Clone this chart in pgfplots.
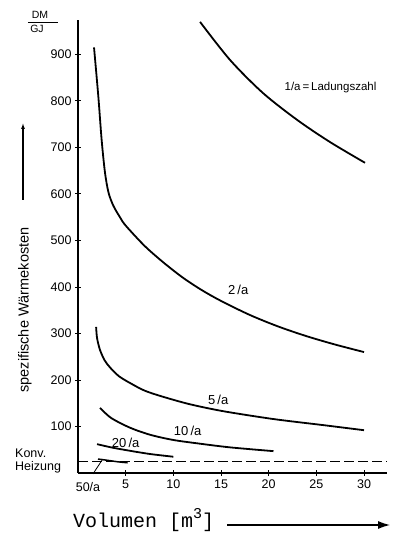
\documentclass[border=0pt]{standalone}
\usepackage{pgfplots}
\pgfplotsset{compat=1.18}
\usepackage{fontspec}
\setmainfont{Liberation Sans}
\newfontfamily\monof{Liberation Mono}
\usetikzlibrary{arrows.meta}
\begin{document}
\begin{tikzpicture}
\path[use as bounding box] (-78pt,-64pt) rectangle (317pt,473pt);
\begin{axis}[
  anchor=south west, at={(0pt,0pt)},
  scale only axis, width=309pt, height=453pt,
  xmin=0, xmax=32.41, ymin=0, ymax=974,
  axis lines*=left,
  axis line style={line width=1.3pt},
  xtick={5,10,...,30}, ytick={100,200,...,900},
  tick align=center, major tick length=6pt,
  tick style={line width=0.9pt, black},
  ticklabel style={font=\fontsize{12.5}{14}\selectfont},
  /pgf/number format/assume math mode=true,
  clip=false,
]
% 1/a
\addplot[black, line width=1.8pt, smooth] coordinates {(12.8,970) (15.95,888) (19.4,817) (23.0,759) (26.4,712) (30.1,667)};
% 2/a
\addplot[black, line width=1.8pt, smooth] coordinates {(1.68,915) (2.13,810) (2.48,716) (2.83,646) (3.2,603) (3.7,575) (4.4,550) (5,532) (7,488) (9,452) (11,420) (13,393) (15,370) (18,340) (21,315) (24,294) (27,276) (30,260)};
% 5/a
\addplot[black, line width=1.8pt, smooth] coordinates {(1.9,314) (2.0,290) (2.3,265) (2.8,242) (3.4,226) (4.3,208) (5.5,193) (7,177) (8.9,164) (11.7,148) (15.2,133) (20.5,116) (25.7,103) (30,92)};
% 10/a
\addplot[black, line width=1.8pt, smooth] coordinates {(2.3,140) (3.5,118) (5.5,97) (7.6,82) (10,71) (12.8,63) (16,55) (20.5,47)};
% 20/a
\addplot[black, line width=1.8pt, smooth] coordinates {(2.0,62) (3.5,55) (5.1,49) (7.5,41) (10,35)};
% 50/a
\addplot[black, line width=1.5pt, smooth] coordinates {(2.1,30) (3.2,27) (4.2,24) (5.2,22)};
% Konv. Heizung
\addplot[black, line width=1.2pt, dash pattern=on 10pt off 4pt] coordinates {(0,24) (32.4,24)};

\draw[line width=0.8pt] (axis cs:1.57,-2) -- (axis cs:2.6,30);

\node[anchor=west, font=\fontsize{11.5}{13}\selectfont] at (axis cs:21.3,828) {1/a\,=\,Ladungszahl};
\node[font=\fontsize{13}{15}\selectfont] at (axis cs:16.8,394) {2\,/a};
\node[font=\fontsize{13}{15}\selectfont] at (axis cs:14.7,158) {5\,/a};
\node[font=\fontsize{13}{15}\selectfont] at (axis cs:11.5,90) {10\,/a};
\node[font=\fontsize{13}{15}\selectfont] at (axis cs:5.0,64) {20\,/a};
\end{axis}
% 50/a label below axis
\node[font=\fontsize{12.5}{14}\selectfont] at (10pt,-14pt) {50/a};
% Konv. Heizung text
\node[anchor=west, font=\fontsize{12.5}{14}\selectfont, inner sep=0pt] at (-63pt,20pt) {Konv.};
\node[anchor=west, font=\fontsize{12.5}{14}\selectfont, inner sep=0pt] at (-63pt,6pt) {Heizung};
% DM/GJ
\node[font=\fontsize{10.5}{12}\selectfont, inner sep=0pt] at (-38pt,458pt) {DM};
\draw[line width=0.7pt] (-50pt,451pt) -- (-20pt,451pt);
\node[font=\fontsize{10.5}{12}\selectfont, inner sep=0pt] at (-41pt,444pt) {GJ};
% y label and arrow
\node[rotate=90, font=\fontsize{14.5}{16}\selectfont, inner sep=0pt] at (-53pt,163pt) {spezifische Wärmekosten};
\draw[line width=1.1pt, -{Latex[length=6pt,width=4pt]}] (-55pt,273pt) -- (-55pt,350pt);
% x label and arrow
\node[anchor=base west, inner sep=0pt, font=\monof\fontsize{20}{22}\selectfont] at (-5pt,-54pt) {Volumen [m\raisebox{0.45em}{\fontsize{15}{15}\selectfont 3}]};
\draw[line width=1.1pt, -{Latex[length=12pt,width=8pt]}] (149pt,-52pt) -- (312pt,-52pt);
\end{tikzpicture}
\end{document}
